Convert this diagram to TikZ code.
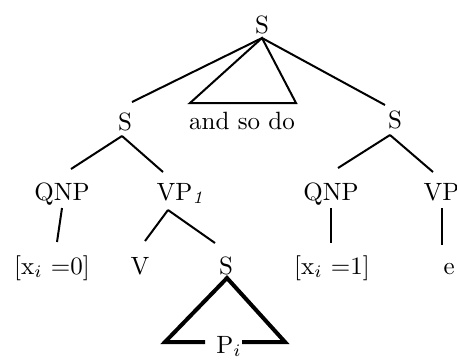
\documentclass[tikz,border=0pt]{standalone}
\begin{document}
\begin{tikzpicture}[x=0.4pt,y=-0.4pt,
  lbl/.style={inner sep=0pt, anchor=base},
  edge/.style={line width=0.8pt},
  bigtri/.style={line width=1.6pt, line join=miter}]
\useasboundingbox (0,0) rectangle (457,363);
\clip (0,0) rectangle (457,363);
% labels
\node[lbl] (S0) at (262,33) {S};
\node[lbl] (andso) at (242,129) {and so do};
\node[lbl] (S1) at (125,130) {S};
\node[lbl] (S2) at (395,128) {S};
\node[lbl] (Q1) at (62,200) {QNP};
\node[lbl, anchor=base west] (VP1) at (156,200) {VP$_{\mathit{1}}$};
\node[lbl] (Q2) at (331,200) {QNP};
\node[lbl, anchor=base west] (VP2) at (423,200) {VP};
\node[lbl] (X1) at (52,274) {[x$_i$ =0]};
\node[lbl] (V) at (140,274) {V};
\node[lbl] (S3) at (226,274) {S};
\node[lbl] (X2) at (332,274) {[x$_i$ =1]};
\node[lbl, anchor=base west] (E) at (443,274) {e$_{\mathit{1}}$};
\node[lbl] (P) at (229,353) {P$_i$};
% connector ends
\coordinate (s0b) at (262,38);
\coordinate (s1t) at (132,102);
\coordinate (s2t) at (385,105);
\coordinate (trl) at (190,103);
\coordinate (trr) at (296,103);
\coordinate (s1b) at (122,136);
\coordinate (q1t) at (71,169);
\coordinate (vp1t) at (163,172);
\coordinate (s2b) at (390,135);
\coordinate (q2t) at (338,168);
\coordinate (vp2t) at (433,172);
\coordinate (q1b) at (62,208);
\coordinate (x1t) at (57,242);
\coordinate (vp1b) at (168,210);
\coordinate (vt) at (145,241);
\coordinate (s3t) at (215,243);
\coordinate (q2b) at (331,208);
\coordinate (x2t) at (331,243);
\coordinate (vp2b) at (442,208);
\coordinate (et) at (442,245);
\coordinate (s3b) at (227,278);
\coordinate (pl) at (165,342);
\coordinate (pr) at (285,342);
\coordinate (gapl) at (205,342);
\coordinate (gapr) at (242,342);
% connectors
\draw[edge] (s0b) -- (s1t);
\draw[edge] (s0b) -- (s2t);
\draw[edge] (trl) -- (s0b) -- (trr) -- cycle;
\draw[edge] (s1b) -- (q1t);
\draw[edge] (s1b) -- (vp1t);
\draw[edge] (s2b) -- (q2t);
\draw[edge] (s2b) -- (vp2t);
\draw[edge] (q1b) -- (x1t);
\draw[edge] (vp1b) -- (vt);
\draw[edge] (vp1b) -- (s3t);
\draw[edge] (q2b) -- (x2t);
\draw[edge] (vp2b) -- (et);
\draw[bigtri] (gapl) -- (pl) -- (s3b) -- (pr) -- (gapr);
\end{tikzpicture}
\end{document}
